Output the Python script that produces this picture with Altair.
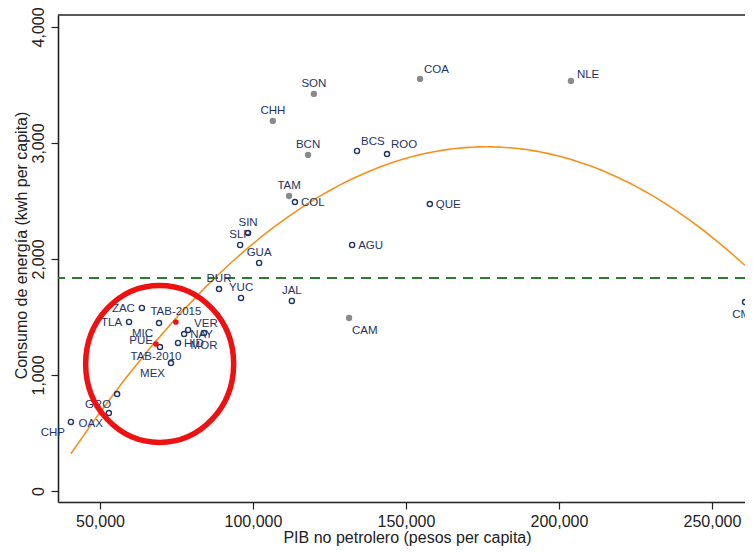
import altair as alt
import pandas as pd

# ---- data ----
estados = ["NLE", "COA", "SON", "CHH", "BCN", "BCS", "ROO", "TAM", "COL", "QUE",
           "SIN", "SLP", "GUA", "AGU", "DUR", "YUC", "JAL", "CAM", "CMX", "ZAC",
           "TLA", "MIC", "TAB-2015", "VER", "NAY", "MOR", "HID", "TAB-2010", "PUE", "MEX",
           "GRO", "OAX", "CHP"]
pib = [203900, 154600, 119900, 106500, 118000, 134000, 143800, 111800, 113700, 157800,
       98400, 95800, 102000, 132400, 88900, 96100, 112700, 131400, 260800, 63700,
       59500, 69300, 74800, 78800, 77500, 84000, 75500, 68300, 69600, 73200,
       55600, 52900, 40500]
energia = [3535, 3552, 3423, 3190, 2897, 2931, 2905, 2543, 2491, 2474,
           2224, 2121, 1966, 2121, 1741, 1664, 1638, 1491, 1629, 1578,
           1457, 1448, 1457, 1388, 1353, 1362, 1276, 1267, 1241, 1103,
           836, 672, 595]
grupo = ["gris", "gris", "gris", "gris", "gris", "hueco", "hueco", "gris", "hueco", "hueco",
         "hueco", "hueco", "hueco", "hueco", "hueco", "hueco", "hueco", "gris", "hueco", "hueco",
         "hueco", "hueco", "rojo", "hueco", "hueco", "hueco", "hueco", "rojo", "hueco", "hueco",
         "hueco", "hueco", "hueco"]
# label clock position (Stata style)
posicion = [2, 1, 12, 12, 12, 1, 1, 12, 3, 3,
            12, 12, 12, 3, 12, 12, 12, 5, 6, 9,
            9, 7, 12, 2, 3, 6, 3, 6, 10, 7,
            7, 7, 7]

linea_media = [1836]             # dashed reference line
elipse_centro = [(69500, 1095)]  # red highlight ellipse (data coords)

x_ticks = [50000, 100000, 150000, 200000, 250000]
y_ticks = [0, 1000, 2000, 3000, 4000]

df = pd.DataFrame({"estado": estados, "pib": pib, "energia": energia,
                   "grupo": grupo, "pos": posicion})
df_fit = df[df["estado"] != "TAB-2010"]

FONT = "Liberation Sans"
NAVY = "#1f3362"
W, H = 687, 487

xs = alt.Scale(domain=[36280, 260790], nice=False, zero=False)
ys = alt.Scale(domain=[-95, 4103], nice=False, zero=False)

x_axis = alt.Axis(values=x_ticks, format=",d", grid=False, title="PIB no petrolero (pesos per capita)",
                  titleX=349, titleY=40, titleAlign="center", titleBaseline="alphabetic")
y_axis = alt.Axis(values=y_ticks, format=",d", grid=False, title="Consumo de energía (kwh per capita)",
                  labelAngle=270, labelAlign="center", labelBaseline="alphabetic", labelPadding=8,
                  titleX=-32, titleY=230, titleAngle=270, titleAlign="center", titleBaseline="alphabetic")

X = alt.X("pib:Q", scale=xs, axis=x_axis)
Y = alt.Y("energia:Q", scale=ys, axis=y_axis)

base = alt.Chart(df)

media = alt.Chart(pd.DataFrame({"energia": linea_media})).mark_rule(
    color="#2b7d2b", strokeWidth=2, strokeDash=[10, 7]
).encode(y=Y)

ajuste = alt.Chart(df_fit).transform_regression(
    "pib", "energia", method="poly", order=2
).mark_line(color="#f7901e", strokeWidth=1.6).encode(x=X, y=Y)

huecos = base.transform_filter(alt.datum.grupo == "hueco").mark_point(
    shape="circle", filled=False, color=NAVY, strokeWidth=1.4, size=26, opacity=1
).encode(x=X, y=Y)

grises = base.transform_filter(alt.datum.grupo == "gris").mark_point(
    shape="circle", filled=True, color="#8a8a8a", size=40, opacity=1
).encode(x=X, y=Y)

rojos = base.transform_filter(alt.datum.grupo == "rojo").mark_point(
    shape="circle", filled=True, color="#ee1111", size=32, opacity=1
).encode(x=X, y=Y)

estilo_pos = {
    12: ("center", 0, -7),
    1: ("left", 4, -6),
    2: ("left", 6, -3),
    3: ("left", 6, 4),
    5: ("left", 3, 16),
    6: ("center", 0, 16),
    7: ("right", -6, 14),
    9: ("right", -7, 4),
    10: ("right", -7, -3),
}
etiquetas = []
for p, (al, dx, dy) in estilo_pos.items():
    etiquetas.append(
        base.transform_filter(alt.datum.pos == p).mark_text(
            align=al, baseline="alphabetic", dx=dx, dy=dy, font=FONT, fontSize=11.5, color=NAVY
        ).encode(x=X, y=Y, text="estado:N")
    )

rx, ry = 74.0, 78.5
r = ry / rx
k = 0.5523
kr = k * r
elipse_path = (f"M 1,0 C 1,{kr:.3f} {k:.3f},{r:.3f} 0,{r:.3f} "
               f"C {-k:.3f},{r:.3f} -1,{kr:.3f} -1,0 "
               f"C -1,{-kr:.3f} {-k:.3f},{-r:.3f} 0,{-r:.3f} "
               f"C {k:.3f},{-r:.3f} 1,{-kr:.3f} 1,0 Z")
elipse = alt.Chart(pd.DataFrame({"pib": [c[0] for c in elipse_centro],
                                 "energia": [c[1] for c in elipse_centro]})).mark_point(
    shape=elipse_path, filled=False, color="#ee1111", strokeWidth=5.5, size=(2 * rx) ** 2, opacity=1
).encode(x=X, y=Y)

marco = alt.Chart(pd.DataFrame({"a": [0]})).mark_rule(color="#222222", strokeWidth=1.5).encode(
    x=alt.value(0), x2=alt.value(W + 10), y=alt.value(0))

chart = alt.layer(
    media, ajuste, huecos, grises, rojos, *etiquetas, elipse, marco
).properties(
    width=W, height=H,
    autosize=alt.AutoSizeParams(type="none"),
    padding={"left": 50, "top": 7, "right": 0, "bottom": 44},
    background="white",
).configure_view(stroke=None).configure_axis(
    domainColor="#222222", domainWidth=1.6, tickColor="#222222", tickWidth=1.2, tickSize=7,
    labelFont=FONT, labelFontSize=16, labelColor="#222222", labelPadding=4,
    titleFont=FONT, titleFontSize=16, titleFontWeight="normal", titleColor="#222222",
    zindex=1,
)

chart.save("out.html", embed_options={"renderer": "svg", "actions": False})
